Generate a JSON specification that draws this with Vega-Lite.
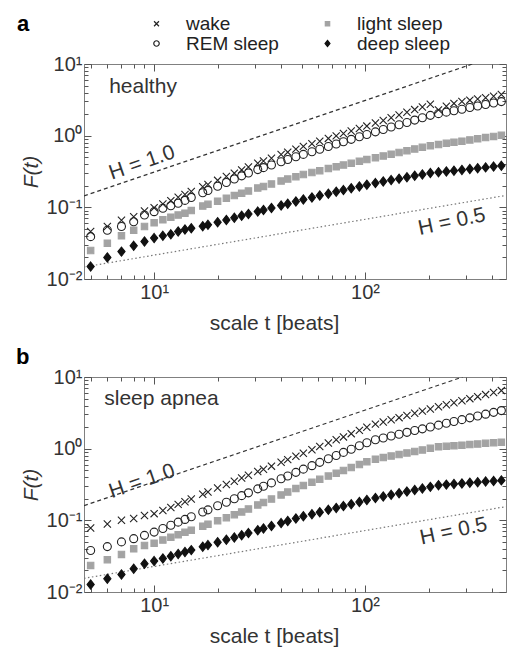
{
  "$schema": "https://vega.github.io/schema/vega-lite/v6.json",
  "padding": {"left": 15, "top": 14, "right": 3, "bottom": 0},
  "bounds": "flush",
  "spacing": 98,
  "config": {
    "font": "Liberation Sans",
    "view": {"stroke": "#808080", "strokeWidth": 1},
    "axis": {"grid": false, "domain": false, "tickColor": "#555555", "tickWidth": 1, "labelColor": "#333", "titleColor": "#333", "labelOverlap": false, "labelFlush": false},
    "legend": {"orient": "none", "legendX": -67, "legendY": -50, "columns": 2, "direction": "horizontal",
      "titleOrient": "left", "titleFontSize": 22, "titleFontWeight": "bold", "titleColor": "#000", "titleAnchor": "start", "titleBaseline": "top", "titlePadding": 117,
      "labelFontSize": 19, "labelColor": "#222", "labelOffset": 20, "symbolSize": 30, "symbolStrokeWidth": 1.2, "rowPadding": 0, "columnPadding": 39, "padding": 0, "labelLimit": 200}
  },
  "datasets": {
    "a": [
      {"t":5,"wake":0.046,"REM sleep":0.039,"light sleep":0.025,"deep sleep":0.0149},
      {"t":6,"wake":0.054,"REM sleep":0.048,"light sleep":0.0316,"deep sleep":0.020},
      {"t":7,"wake":0.066,"REM sleep":0.054,"light sleep":0.040,"deep sleep":0.0241},
      {"t":8,"wake":0.074,"REM sleep":0.063,"light sleep":0.048,"deep sleep":0.029},
      {"t":9,"wake":0.089,"REM sleep":0.078,"light sleep":0.054,"deep sleep":0.0333},
      {"t":10,"wake":0.099,"REM sleep":0.087,"light sleep":0.061,"deep sleep":0.0372},
      {"t":11,"wake":0.111,"REM sleep":0.097,"light sleep":0.067,"deep sleep":0.040},
      {"t":12,"wake":0.124,"REM sleep":0.105,"light sleep":0.073,"deep sleep":0.042},
      {"t":13,"wake":0.138,"REM sleep":0.114,"light sleep":0.078,"deep sleep":0.046},
      {"t":14,"wake":0.151,"REM sleep":0.125,"light sleep":0.083,"deep sleep":0.049},
      {"t":15,"wake":0.166,"REM sleep":0.137,"light sleep":0.090,"deep sleep":0.051},
      {"t":17,"wake":0.194,"REM sleep":0.160,"light sleep":0.104,"deep sleep":0.0545},
      {"t":18,"wake":0.208,"REM sleep":0.172,"light sleep":0.110,"deep sleep":0.057},
      {"t":20,"wake":0.238,"REM sleep":0.197,"light sleep":0.122,"deep sleep":0.0619},
      {"t":22,"wake":0.269,"REM sleep":0.222,"light sleep":0.134,"deep sleep":0.0667},
      {"t":24,"wake":0.300,"REM sleep":0.248,"light sleep":0.146,"deep sleep":0.0715},
      {"t":26,"wake":0.333,"REM sleep":0.275,"light sleep":0.157,"deep sleep":0.0762},
      {"t":28,"wake":0.366,"REM sleep":0.301,"light sleep":0.169,"deep sleep":0.0807},
      {"t":31,"wake":0.412,"REM sleep":0.336,"light sleep":0.186,"deep sleep":0.0872},
      {"t":33,"wake":0.442,"REM sleep":0.358,"light sleep":0.196,"deep sleep":0.0917},
      {"t":36,"wake":0.485,"REM sleep":0.389,"light sleep":0.212,"deep sleep":0.098},
      {"t":40,"wake":0.545,"REM sleep":0.432,"light sleep":0.233,"deep sleep":0.106},
      {"t":43,"wake":0.589,"REM sleep":0.464,"light sleep":0.248,"deep sleep":0.112},
      {"t":47,"wake":0.649,"REM sleep":0.507,"light sleep":0.268,"deep sleep":0.121},
      {"t":51,"wake":0.709,"REM sleep":0.548,"light sleep":0.287,"deep sleep":0.129},
      {"t":56,"wake":0.773,"REM sleep":0.597,"light sleep":0.306,"deep sleep":0.137},
      {"t":61,"wake":0.838,"REM sleep":0.647,"light sleep":0.325,"deep sleep":0.146},
      {"t":67,"wake":0.916,"REM sleep":0.706,"light sleep":0.347,"deep sleep":0.155},
      {"t":73,"wake":0.993,"REM sleep":0.764,"light sleep":0.368,"deep sleep":0.165},
      {"t":79,"wake":1.07,"REM sleep":0.823,"light sleep":0.389,"deep sleep":0.174},
      {"t":86,"wake":1.16,"REM sleep":0.889,"light sleep":0.412,"deep sleep":0.185},
      {"t":94,"wake":1.26,"REM sleep":0.966,"light sleep":0.439,"deep sleep":0.196},
      {"t":102,"wake":1.36,"REM sleep":1.04,"light sleep":0.464,"deep sleep":0.207},
      {"t":112,"wake":1.50,"REM sleep":1.13,"light sleep":0.493,"deep sleep":0.218},
      {"t":122,"wake":1.63,"REM sleep":1.22,"light sleep":0.521,"deep sleep":0.229},
      {"t":133,"wake":1.78,"REM sleep":1.32,"light sleep":0.551,"deep sleep":0.240},
      {"t":145,"wake":1.94,"REM sleep":1.42,"light sleep":0.582,"deep sleep":0.251},
      {"t":158,"wake":2.12,"REM sleep":1.53,"light sleep":0.617,"deep sleep":0.263},
      {"t":172,"wake":2.31,"REM sleep":1.65,"light sleep":0.652,"deep sleep":0.276},
      {"t":187,"wake":2.51,"REM sleep":1.78,"light sleep":0.687,"deep sleep":0.288},
      {"t":204,"wake":2.75,"REM sleep":1.92,"light sleep":0.724,"deep sleep":0.301},
      {"t":223,"wake":2.29,"REM sleep":2.03,"light sleep":0.752,"deep sleep":0.309},
      {"t":243,"wake":2.57,"REM sleep":2.13,"light sleep":0.781,"deep sleep":0.317},
      {"t":264,"wake":2.82,"REM sleep":2.23,"light sleep":0.809,"deep sleep":0.325},
      {"t":288,"wake":2.99,"REM sleep":2.34,"light sleep":0.839,"deep sleep":0.333},
      {"t":314,"wake":3.13,"REM sleep":2.47,"light sleep":0.873,"deep sleep":0.342},
      {"t":342,"wake":3.24,"REM sleep":2.59,"light sleep":0.905,"deep sleep":0.351},
      {"t":373,"wake":3.39,"REM sleep":2.72,"light sleep":0.940,"deep sleep":0.361},
      {"t":407,"wake":3.55,"REM sleep":2.86,"light sleep":0.975,"deep sleep":0.370},
      {"t":443,"wake":3.76,"REM sleep":2.99,"light sleep":1.01,"deep sleep":0.379}
    ],
    "b": [
      {"t":5,"wake":0.078,"REM sleep":0.038,"light sleep":0.0235,"deep sleep":0.0127},
      {"t":6,"wake":0.089,"REM sleep":0.043,"light sleep":0.0282,"deep sleep":0.0153},
      {"t":7,"wake":0.100,"REM sleep":0.050,"light sleep":0.0334,"deep sleep":0.0176},
      {"t":8,"wake":0.106,"REM sleep":0.0555,"light sleep":0.040,"deep sleep":0.0211},
      {"t":9,"wake":0.117,"REM sleep":0.0617,"light sleep":0.0447,"deep sleep":0.0248},
      {"t":10,"wake":0.124,"REM sleep":0.0685,"light sleep":0.048,"deep sleep":0.027},
      {"t":11,"wake":0.137,"REM sleep":0.0769,"light sleep":0.053,"deep sleep":0.0293},
      {"t":12,"wake":0.151,"REM sleep":0.0855,"light sleep":0.058,"deep sleep":0.0316},
      {"t":13,"wake":0.167,"REM sleep":0.0944,"light sleep":0.063,"deep sleep":0.0339},
      {"t":14,"wake":0.182,"REM sleep":0.103,"light sleep":0.068,"deep sleep":0.0361},
      {"t":15,"wake":0.199,"REM sleep":0.112,"light sleep":0.073,"deep sleep":0.0384},
      {"t":17,"wake":0.231,"REM sleep":0.131,"light sleep":0.083,"deep sleep":0.0428},
      {"t":18,"wake":0.248,"REM sleep":0.140,"light sleep":0.0885,"deep sleep":0.0451},
      {"t":20,"wake":0.282,"REM sleep":0.160,"light sleep":0.099,"deep sleep":0.0494},
      {"t":22,"wake":0.316,"REM sleep":0.179,"light sleep":0.109,"deep sleep":0.0536},
      {"t":24,"wake":0.352,"REM sleep":0.200,"light sleep":0.120,"deep sleep":0.0578},
      {"t":26,"wake":0.389,"REM sleep":0.221,"light sleep":0.131,"deep sleep":0.0621},
      {"t":28,"wake":0.425,"REM sleep":0.242,"light sleep":0.144,"deep sleep":0.0664},
      {"t":31,"wake":0.479,"REM sleep":0.275,"light sleep":0.164,"deep sleep":0.0728},
      {"t":33,"wake":0.516,"REM sleep":0.299,"light sleep":0.178,"deep sleep":0.0771},
      {"t":36,"wake":0.570,"REM sleep":0.333,"light sleep":0.198,"deep sleep":0.0832},
      {"t":40,"wake":0.646,"REM sleep":0.380,"light sleep":0.226,"deep sleep":0.0916},
      {"t":43,"wake":0.703,"REM sleep":0.416,"light sleep":0.248,"deep sleep":0.0977},
      {"t":47,"wake":0.782,"REM sleep":0.467,"light sleep":0.277,"deep sleep":0.106},
      {"t":51,"wake":0.863,"REM sleep":0.518,"light sleep":0.307,"deep sleep":0.114},
      {"t":56,"wake":0.964,"REM sleep":0.579,"light sleep":0.340,"deep sleep":0.122},
      {"t":61,"wake":1.07,"REM sleep":0.644,"light sleep":0.373,"deep sleep":0.130},
      {"t":67,"wake":1.20,"REM sleep":0.723,"light sleep":0.414,"deep sleep":0.140},
      {"t":73,"wake":1.33,"REM sleep":0.803,"light sleep":0.454,"deep sleep":0.149},
      {"t":79,"wake":1.46,"REM sleep":0.887,"light sleep":0.497,"deep sleep":0.158},
      {"t":86,"wake":1.62,"REM sleep":0.982,"light sleep":0.544,"deep sleep":0.168},
      {"t":94,"wake":1.80,"REM sleep":1.10,"light sleep":0.600,"deep sleep":0.180},
      {"t":102,"wake":1.99,"REM sleep":1.21,"light sleep":0.659,"deep sleep":0.192},
      {"t":112,"wake":2.20,"REM sleep":1.33,"light sleep":0.714,"deep sleep":0.205},
      {"t":122,"wake":2.36,"REM sleep":1.41,"light sleep":0.750,"deep sleep":0.215},
      {"t":133,"wake":2.53,"REM sleep":1.50,"light sleep":0.789,"deep sleep":0.227},
      {"t":145,"wake":2.71,"REM sleep":1.59,"light sleep":0.828,"deep sleep":0.239},
      {"t":158,"wake":2.91,"REM sleep":1.69,"light sleep":0.871,"deep sleep":0.252},
      {"t":172,"wake":3.12,"REM sleep":1.79,"light sleep":0.914,"deep sleep":0.265},
      {"t":187,"wake":3.34,"REM sleep":1.89,"light sleep":0.959,"deep sleep":0.278},
      {"t":204,"wake":3.58,"REM sleep":2.01,"light sleep":1.01,"deep sleep":0.293},
      {"t":223,"wake":3.85,"REM sleep":2.13,"light sleep":1.06,"deep sleep":0.309},
      {"t":243,"wake":4.11,"REM sleep":2.26,"light sleep":1.08,"deep sleep":0.315},
      {"t":264,"wake":4.38,"REM sleep":2.39,"light sleep":1.10,"deep sleep":0.321},
      {"t":288,"wake":4.67,"REM sleep":2.54,"light sleep":1.12,"deep sleep":0.327},
      {"t":314,"wake":4.99,"REM sleep":2.69,"light sleep":1.14,"deep sleep":0.334},
      {"t":342,"wake":5.32,"REM sleep":2.85,"light sleep":1.16,"deep sleep":0.340},
      {"t":373,"wake":5.68,"REM sleep":3.03,"light sleep":1.19,"deep sleep":0.348},
      {"t":407,"wake":6.07,"REM sleep":3.21,"light sleep":1.21,"deep sleep":0.354},
      {"t":443,"wake":6.46,"REM sleep":3.40,"light sleep":1.23,"deep sleep":0.361}
    ],
    "h": [
      {"panel":"a","H":1,"t":4.65,"F":0.1442},
      {"panel":"a","H":1,"t":322.6,"F":10},
      {"panel":"a","H":0.5,"t":4.65,"F":0.0147},
      {"panel":"a","H":0.5,"t":466,"F":0.1468},
      {"panel":"b","H":1,"t":4.65,"F":0.1605},
      {"panel":"b","H":1,"t":290,"F":10},
      {"panel":"b","H":0.5,"t":4.65,"F":0.0155},
      {"panel":"b","H":0.5,"t":466,"F":0.1554}
    ],
    "lab": [
      {"panel":"a","kind":"name","label":"healthy","t":6.12,"F":4.77},
      {"panel":"a","kind":"h1","label":"H = 1.0","t":8.77,"F":0.416},
      {"panel":"a","kind":"h05","label":"H = 0.5","t":258,"F":0.0625},
      {"panel":"b","kind":"name","label":"sleep apnea","t":5.8,"F":4.92},
      {"panel":"b","kind":"h1","label":"H = 1.0","t":8.77,"F":0.35},
      {"panel":"b","kind":"h05","label":"H = 0.5","t":263,"F":0.070}
    ]
  },
  "vconcat": [
    {
      "width": 422,
      "height": 215,
      "layer": [
        {
          "data": {"name": "h"},
          "transform": [{"filter": "datum.panel == 'a' && datum.H == 1"}],
          "mark": {"type": "line", "strokeDash": [4, 3], "color": "#333", "strokeWidth": 1.2, "clip": true},
          "encoding": {
            "x": {"field": "t", "type": "quantitative", "scale": {"type": "log", "domain": [4.65, 466], "nice": false},
              "axis": {"orient": "top", "values": [5,6,7,8,9,10,20,30,40,50,60,70,80,90,100,200,300,400], "labels": false, "title": null,
                "tickSize": {"condition": {"test": "datum.value == 10 || datum.value == 100", "value": -7}, "value": -4}}},
            "y": {"field": "F", "type": "quantitative", "scale": {"type": "log", "domain": [0.01, 10], "nice": false},
              "axis": {"orient": "right", "values": [0.01,0.02,0.03,0.04,0.05,0.06,0.07,0.08,0.09,0.1,0.2,0.3,0.4,0.5,0.6,0.7,0.8,0.9,1,2,3,4,5,6,7,8,9,10], "labels": false, "title": null,
                "tickSize": {"condition": {"test": "datum.value == 0.01 || datum.value == 0.1 || datum.value == 1 || datum.value == 10", "value": -7}, "value": -4}}}
          }
        },
        {
          "data": {"name": "h"},
          "transform": [{"filter": "datum.panel == 'a' && datum.H == 0.5"}],
          "mark": {"type": "line", "strokeDash": [1.5, 2.5], "color": "#777", "strokeWidth": 1.2, "clip": true},
          "encoding": {
            "x": {"field": "t", "type": "quantitative", "axis": null},
            "y": {"field": "F", "type": "quantitative", "axis": null}
          }
        },
        {
          "data": {"name": "a"},
          "transform": [{"fold": ["wake", "light sleep", "REM sleep", "deep sleep"], "as": ["stage", "F"]}],
          "mark": {"type": "point", "filled": false, "opacity": 1, "strokeWidth": 1.1, "size": 64},
          "encoding": {
            "x": {"field": "t", "type": "quantitative",
              "axis": {"orient": "bottom", "values": [5,6,7,8,9,10,20,30,40,50,60,70,80,90,100,200,300,400],
                "labelExpr": "datum.value == 10 ? '10¹' : datum.value == 100 ? '10²' : ''",
                "tickSize": {"condition": {"test": "datum.value == 10 || datum.value == 100", "value": -7}, "value": -4},
                "labelFontSize": 20, "labelPadding": 10, "title": "scale t [beats]", "titleFontSize": 21, "titleFontWeight": "normal", "titlePadding": 7, "titleX": 190}},
            "y": {"field": "F", "type": "quantitative",
              "axis": {"orient": "left", "values": [0.01,0.02,0.03,0.04,0.05,0.06,0.07,0.08,0.09,0.1,0.2,0.3,0.4,0.5,0.6,0.7,0.8,0.9,1,2,3,4,5,6,7,8,9,10],
                "labelExpr": "datum.value == 10 ? '10¹' : datum.value == 1 ? '10⁰' : datum.value == 0.1 ? '10⁻¹' : datum.value == 0.01 ? '10⁻²' : ''",
                "tickSize": {"condition": {"test": "datum.value == 0.01 || datum.value == 0.1 || datum.value == 1 || datum.value == 10", "value": -7}, "value": -4},
                "labelFontSize": 20, "labelPadding": 9, "title": "F(t)", "titleFontSize": 21, "titleFontWeight": "normal", "titleFontStyle": "italic", "titlePadding": 5}},
            "shape": {"field": "stage", "type": "nominal",
              "scale": {"domain": ["wake", "light sleep", "REM sleep", "deep sleep"],
                "range": ["M-0.9,-0.9L0.9,0.9M-0.9,0.9L0.9,-0.9", "M-0.8,-0.8L0.8,-0.8L0.8,0.8L-0.8,0.8Z", "circle", "M0,-1.15L0.9,0L0,1.15L-0.9,0Z"]},
              "legend": {"title": "a", "labelOffset": 20, "columnPadding": 39, "titlePadding": 117, "rowPadding": 0}},
            "fill": {"field": "stage", "type": "nominal",
              "scale": {"domain": ["wake", "light sleep", "REM sleep", "deep sleep"], "range": ["transparent", "#a3a3a3", "transparent", "#111111"]},
              "legend": {"title": "a", "labelOffset": 20, "columnPadding": 39, "titlePadding": 117, "rowPadding": 0}},
            "stroke": {"field": "stage", "type": "nominal",
              "scale": {"domain": ["wake", "light sleep", "REM sleep", "deep sleep"], "range": ["#222222", "#a3a3a3", "#222222", "#111111"]},
              "legend": {"title": "a", "labelOffset": 20, "columnPadding": 39, "titlePadding": 117, "rowPadding": 0}}
          }
        },
        {
          "data": {"name": "lab"},
          "transform": [{"filter": "datum.panel == 'a' && datum.kind == 'name'"}],
          "mark": {"type": "text", "align": "left", "baseline": "middle", "fontSize": 21, "color": "#333"},
          "encoding": {
            "x": {"field": "t", "type": "quantitative", "axis": null},
            "y": {"field": "F", "type": "quantitative", "axis": null},
            "text": {"field": "label"}
          }
        },
        {
          "data": {"name": "lab"},
          "transform": [{"filter": "datum.panel == 'a' && datum.kind == 'h1'"}],
          "mark": {"type": "text", "align": "center", "baseline": "middle", "fontSize": 21, "color": "#333", "angle": -19},
          "encoding": {
            "x": {"field": "t", "type": "quantitative", "axis": null},
            "y": {"field": "F", "type": "quantitative", "axis": null},
            "text": {"field": "label"}
          }
        },
        {
          "data": {"name": "lab"},
          "transform": [{"filter": "datum.panel == 'a' && datum.kind == 'h05'"}],
          "mark": {"type": "text", "align": "center", "baseline": "middle", "fontSize": 21, "color": "#333", "angle": -12},
          "encoding": {
            "x": {"field": "t", "type": "quantitative", "axis": null},
            "y": {"field": "F", "type": "quantitative", "axis": null},
            "text": {"field": "label"}
          }
        }
      ]
    },
    {
      "width": 422,
      "height": 215,
      "title": {"text": "b", "anchor": "start", "frame": "bounds", "fontSize": 22, "fontWeight": "bold", "color": "#000", "offset": -2, "dx": -4},
      "layer": [
        {
          "data": {"name": "h"},
          "transform": [{"filter": "datum.panel == 'b' && datum.H == 1"}],
          "mark": {"type": "line", "strokeDash": [4, 3], "color": "#333", "strokeWidth": 1.2, "clip": true},
          "encoding": {
            "x": {"field": "t", "type": "quantitative", "scale": {"type": "log", "domain": [4.65, 466], "nice": false},
              "axis": {"orient": "top", "values": [5,6,7,8,9,10,20,30,40,50,60,70,80,90,100,200,300,400], "labels": false, "title": null,
                "tickSize": {"condition": {"test": "datum.value == 10 || datum.value == 100", "value": -7}, "value": -4}}},
            "y": {"field": "F", "type": "quantitative", "scale": {"type": "log", "domain": [0.01, 10], "nice": false},
              "axis": {"orient": "right", "values": [0.01,0.02,0.03,0.04,0.05,0.06,0.07,0.08,0.09,0.1,0.2,0.3,0.4,0.5,0.6,0.7,0.8,0.9,1,2,3,4,5,6,7,8,9,10], "labels": false, "title": null,
                "tickSize": {"condition": {"test": "datum.value == 0.01 || datum.value == 0.1 || datum.value == 1 || datum.value == 10", "value": -7}, "value": -4}}}
          }
        },
        {
          "data": {"name": "h"},
          "transform": [{"filter": "datum.panel == 'b' && datum.H == 0.5"}],
          "mark": {"type": "line", "strokeDash": [1.5, 2.5], "color": "#777", "strokeWidth": 1.2, "clip": true},
          "encoding": {
            "x": {"field": "t", "type": "quantitative", "axis": null},
            "y": {"field": "F", "type": "quantitative", "axis": null}
          }
        },
        {
          "data": {"name": "b"},
          "transform": [{"fold": ["wake", "light sleep", "REM sleep", "deep sleep"], "as": ["stage", "F"]}],
          "mark": {"type": "point", "filled": false, "opacity": 1, "strokeWidth": 1.1, "size": 64},
          "encoding": {
            "x": {"field": "t", "type": "quantitative",
              "axis": {"orient": "bottom", "values": [5,6,7,8,9,10,20,30,40,50,60,70,80,90,100,200,300,400],
                "labelExpr": "datum.value == 10 ? '10¹' : datum.value == 100 ? '10²' : ''",
                "tickSize": {"condition": {"test": "datum.value == 10 || datum.value == 100", "value": -7}, "value": -4},
                "labelFontSize": 20, "labelPadding": 10, "title": "scale t [beats]", "titleFontSize": 21, "titleFontWeight": "normal", "titlePadding": 7, "titleX": 190}},
            "y": {"field": "F", "type": "quantitative",
              "axis": {"orient": "left", "values": [0.01,0.02,0.03,0.04,0.05,0.06,0.07,0.08,0.09,0.1,0.2,0.3,0.4,0.5,0.6,0.7,0.8,0.9,1,2,3,4,5,6,7,8,9,10],
                "labelExpr": "datum.value == 10 ? '10¹' : datum.value == 1 ? '10⁰' : datum.value == 0.1 ? '10⁻¹' : datum.value == 0.01 ? '10⁻²' : ''",
                "tickSize": {"condition": {"test": "datum.value == 0.01 || datum.value == 0.1 || datum.value == 1 || datum.value == 10", "value": -7}, "value": -4},
                "labelFontSize": 20, "labelPadding": 9, "title": "F(t)", "titleFontSize": 21, "titleFontWeight": "normal", "titleFontStyle": "italic", "titlePadding": 5}},
            "shape": {"field": "stage", "type": "nominal",
              "scale": {"domain": ["wake", "light sleep", "REM sleep", "deep sleep"],
                "range": ["M-0.9,-0.9L0.9,0.9M-0.9,0.9L0.9,-0.9", "M-0.8,-0.8L0.8,-0.8L0.8,0.8L-0.8,0.8Z", "circle", "M0,-1.15L0.9,0L0,1.15L-0.9,0Z"]},
              "legend": null},
            "fill": {"field": "stage", "type": "nominal",
              "scale": {"domain": ["wake", "light sleep", "REM sleep", "deep sleep"], "range": ["transparent", "#a3a3a3", "transparent", "#111111"]},
              "legend": null},
            "stroke": {"field": "stage", "type": "nominal",
              "scale": {"domain": ["wake", "light sleep", "REM sleep", "deep sleep"], "range": ["#222222", "#a3a3a3", "#222222", "#111111"]},
              "legend": null}
          }
        },
        {
          "data": {"name": "lab"},
          "transform": [{"filter": "datum.panel == 'b' && datum.kind == 'name'"}],
          "mark": {"type": "text", "align": "left", "baseline": "middle", "fontSize": 21, "color": "#333"},
          "encoding": {
            "x": {"field": "t", "type": "quantitative", "axis": null},
            "y": {"field": "F", "type": "quantitative", "axis": null},
            "text": {"field": "label"}
          }
        },
        {
          "data": {"name": "lab"},
          "transform": [{"filter": "datum.panel == 'b' && datum.kind == 'h1'"}],
          "mark": {"type": "text", "align": "center", "baseline": "middle", "fontSize": 21, "color": "#333", "angle": -19},
          "encoding": {
            "x": {"field": "t", "type": "quantitative", "axis": null},
            "y": {"field": "F", "type": "quantitative", "axis": null},
            "text": {"field": "label"}
          }
        },
        {
          "data": {"name": "lab"},
          "transform": [{"filter": "datum.panel == 'b' && datum.kind == 'h05'"}],
          "mark": {"type": "text", "align": "center", "baseline": "middle", "fontSize": 21, "color": "#333", "angle": -12},
          "encoding": {
            "x": {"field": "t", "type": "quantitative", "axis": null},
            "y": {"field": "F", "type": "quantitative", "axis": null},
            "text": {"field": "label"}
          }
        }
      ]
    }
  ]
}
